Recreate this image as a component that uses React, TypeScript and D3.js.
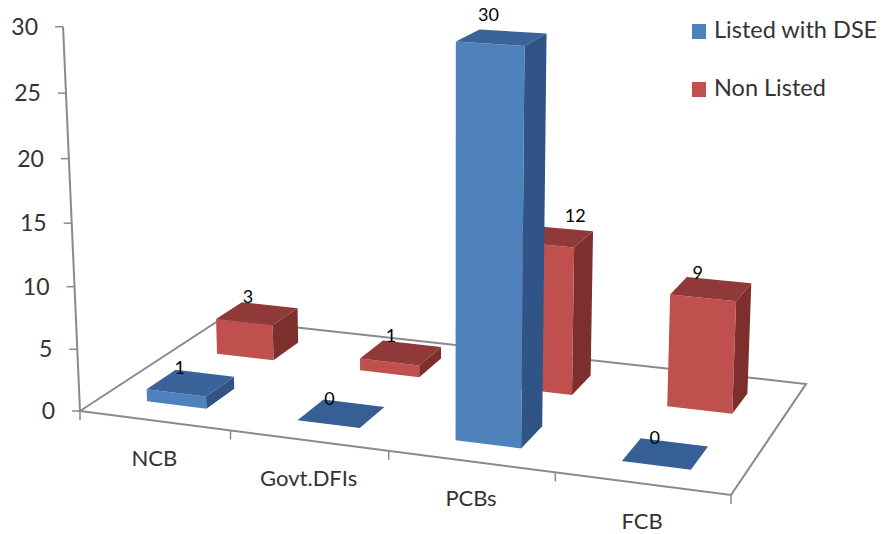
import React from "react";
import * as d3 from "d3";

const categories = ["NCB", "Govt.DFIs", "PCBs", "FCB"];
const seriesNames = ["Listed with DSE", "Non Listed"];
const listedValues = [1, 0, 30, 0];
const nonListedValues = [3, 1, 12, 9];
const valueTicks = [0, 5, 10, 15, 20, 25, 30];

const WIDTH = 883;
const HEIGHT = 534;
const FONT = "Lato, 'Open Sans', sans-serif";

// Floor of the 3D plot on screen: origin, front right, back right, back left.
const floorQuad: [number, number][] = [
  [80, 411],
  [731, 495],
  [806, 384],
  [221, 319],
];
// Vertical perspective of the plot: vanishing point and per-unit foreshortening.
const verticalVanish: [number, number] = [450, 8800];
const verticalFalloff = -0.00146;

const palette = [
  { front: "#4f81bd", top: "#3a639a", side: "#2f5485", flat: "#365f95" },
  { front: "#c0504d", top: "#8f3a38", side: "#7d2f2d", flat: "#8f3a38" },
];

function makeProjection(q: [number, number][]) {
  const [[x0, y0], [x1, y1], [x2, y2], [x3, y3]] = q;
  const dx1 = x1 - x2, dx2 = x3 - x2, dx3 = x0 - x1 + x2 - x3;
  const dy1 = y1 - y2, dy2 = y3 - y2, dy3 = y0 - y1 + y2 - y3;
  const den = dx1 * dy2 - dx2 * dy1;
  const g = (dx3 * dy2 - dx2 * dy3) / den;
  const h = (dx1 * dy3 - dx3 * dy1) / den;
  const a = x1 - x0 + g * x1, b = x3 - x0 + h * x3;
  const d = y1 - y0 + g * y1, e = y3 - y0 + h * y3;
  return (u: number, v: number, t: number): [number, number] => {
    const w = g * u + h * v + 1 + t * verticalFalloff;
    const X = a * u + b * v + x0 + t * verticalFalloff * verticalVanish[0];
    const Y = d * u + e * v + y0 + t * verticalFalloff * verticalVanish[1];
    return [X / w, Y / w];
  };
}

const project = makeProjection(floorQuad);
const uScale = d3.scaleBand<string>().domain(categories).range([0.005, 0.995]).paddingInner(0.6).paddingOuter(0.28);
const uTicks = d3.scalePoint<string>().domain(["", ...categories]).range([0, 1]);
const vScale = d3.scaleBand<string>().domain(seriesNames).range([0, 1]).paddingInner(0.6).paddingOuter(0.3);
const polygon = d3.line<[number, number]>().curve(d3.curveLinearClosed);
const axisGray = "#8a8a8a";

// Label offsets around each bar's back-left top corner.
const labelNudge = [
  [[4, 4], [6, 1]],
  [[6, 5], [8, 1]],
  [[9, -8], [44, -4]],
  [[14, 6], [11, 2]],
];

function Bar({ cat, series, value }: { cat: string; series: number; value: number }) {
  const u0 = uScale(cat)!;
  const u1 = u0 + uScale.bandwidth();
  const v0 = vScale(seriesNames[series])!;
  const v1 = v0 + vScale.bandwidth();
  const colors = palette[series];
  const top = [project(u0, v0, value), project(u1, v0, value), project(u1, v1, value), project(u0, v1, value)];
  if (value === 0) return <path d={polygon(top)!} fill={colors.flat} />;
  const front = [project(u0, v0, 0), project(u1, v0, 0), project(u1, v0, value), project(u0, v0, value)];
  const side = [project(u1, v0, 0), project(u1, v1, 0), project(u1, v1, value), project(u1, v0, value)];
  return (
    <g>
      <path d={polygon(side)!} fill={colors.side} />
      <path d={polygon(front)!} fill={colors.front} />
      <path d={polygon(top)!} fill={colors.top} />
    </g>
  );
}

function BarLabel({ cat, series, value, index }: { cat: string; series: number; value: number; index: number }) {
  const [x, y] = project(uScale(cat)!, vScale(seriesNames[series])! + vScale.bandwidth(), value);
  const [dx, dy] = labelNudge[index][series];
  return (
    <text x={x + dx} y={y + dy} textAnchor="middle" fontSize={18} fontFamily={FONT} fill="#000">
      {value}
    </text>
  );
}

export default function App() {
  const corners = floorQuad.map(([x, y]) => `${x},${y}`).join(" ");
  const rows = [nonListedValues, listedValues];
  return (
    <svg width={WIDTH} height={HEIGHT} style={{ position: "absolute", left: 0, top: 0 }}>
      <rect width={WIDTH} height={HEIGHT} fill="#fff" />
      <polygon points={corners} fill="none" stroke={axisGray} strokeWidth={2} />

      {/* Value axis */}
      {(() => {
        const [bx, by] = project(0, 0, 0);
        const [tx, ty] = project(0, 0, 30);
        return <line x1={bx} y1={by} x2={tx} y2={ty} stroke={axisGray} strokeWidth={2} />;
      })()}
      {valueTicks.map((t) => {
        const [x, y] = project(0, 0, t);
        return (
          <g key={t}>
            <line x1={x - 8} y1={y} x2={x} y2={y} stroke={axisGray} strokeWidth={1.5} />
            <text x={x - 25} y={y + 8} textAnchor="end" fontSize={23} fontFamily={FONT} fill="#333">
              {t}
            </text>
          </g>
        );
      })}

      {/* Category axis */}
      {["", ...categories].map((c) => {
        const [x, y] = project(uTicks(c)!, 0, 0);
        return <line key={c} x1={x} y1={y} x2={x} y2={y + 9} stroke={axisGray} strokeWidth={1.5} />;
      })}
      {categories.map((c) => {
        const [x, y] = project(uScale(c)! + uScale.bandwidth() / 2, 0, 0);
        return (
          <text key={c} x={x} y={y + 45} textAnchor="middle" fontSize={22} fontFamily={FONT} fill="#333">
            {c}
          </text>
        );
      })}

      {/* Bars, back row first so the front row overlaps it */}
      {rows.map((vals, r) =>
        categories.map((c, i) => <Bar key={`${r}-${c}`} cat={c} series={1 - r} value={vals[i]} />)
      )}
      {rows.map((vals, r) =>
        categories.map((c, i) => (
          <BarLabel key={`${r}-${c}`} cat={c} series={1 - r} value={vals[i]} index={i} />
        ))
      )}

      {/* Legend */}
      {seriesNames.map((name, i) => (
        <g key={name}>
          <rect x={692} y={24 + i * 58} width={14} height={15} fill={palette[i].front} />
          <text x={714} y={38 + i * 58} fontSize={23.5} fontFamily={FONT} fill="#333">
            {name}
          </text>
        </g>
      ))}
    </svg>
  );
}
